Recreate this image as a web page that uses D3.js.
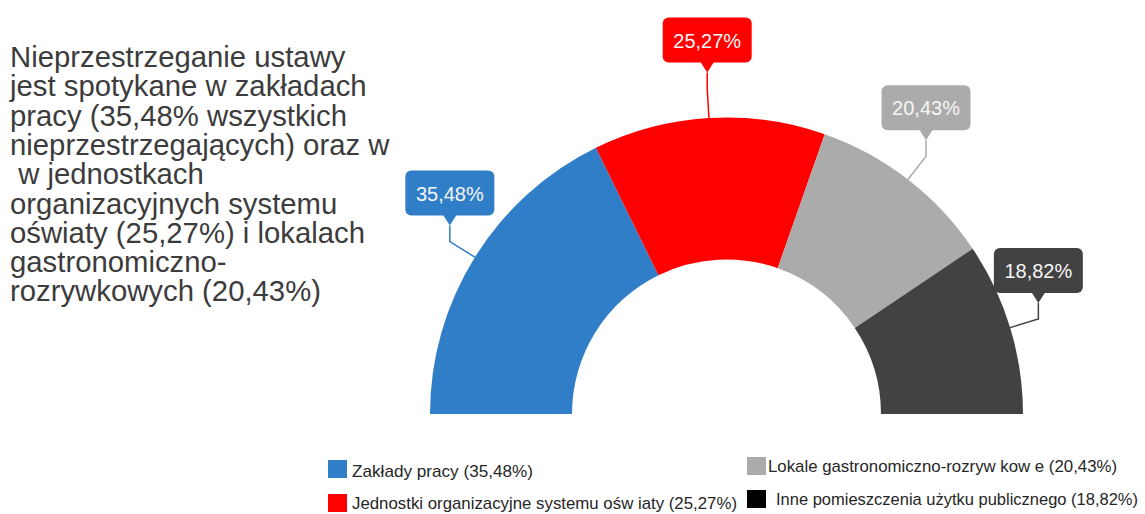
<!DOCTYPE html>
<html>
<head>
<meta charset="utf-8">
<script src="https://cdn.jsdelivr.net/npm/d3@7"></script>
<style>
  html, body { margin: 0; padding: 0; background: #ffffff; }
  svg { display: block; }
</style>
</head>
<body>
<svg id="chart" width="1145" height="514"></svg>
<script>
// ---- data ----
const categories = [
  "Zakłady pracy",
  "Jednostki organizacyjne systemu ośw iaty",
  "Lokale gastronomiczno-rozryw kow e",
  "Inne pomieszczenia użytku publicznego"
];
const values = [35.48, 25.27, 20.43, 18.82];
const sliceColors = ["#2f7ec7", "#ff0000", "#ababab", "#424242"];
const legendColors = ["#2f7ec7", "#ff0000", "#ababab", "#000000"];
const titleLines = [
  "Nieprzestrzeganie ustawy",
  "jest spotykane w zakładach",
  "pracy (35,48% wszystkich",
  "nieprzestrzegających) oraz w",
  " w jednostkach",
  "organizacyjnych systemu",
  "oświaty (25,27%) i lokalach",
  "gastronomiczno-",
  "rozrywkowych (20,43%)"
];

// ---- layout ----
const svg = d3.select("#chart");
const cx = 726.5, cy = 414;
const rOuter = 296.5, rInner = 154.5;
const fmt = v => d3.format(".2f")(v).replace(".", ",") + "%";

// title
const title = svg.append("g").attr("transform", "translate(10,0)");
title.selectAll("text").data(titleLines).join("text")
  .attr("x", 0)
  .attr("y", (d, i) => 67 + i * 29.3)
  .attr("font-family", "'Liberation Sans', Arial, sans-serif")
  .attr("font-size", 29.3)
  .attr("fill", "#3c3c3c")
  .style("white-space", "pre")
  .attr("xml:space", "preserve")
  .text(d => d);

// donut
const pie = d3.pie().sort(null).value(d => d)
  .startAngle(-Math.PI / 2).endAngle(Math.PI / 2);
const arcs = pie(values);
const arc = d3.arc().innerRadius(rInner).outerRadius(rOuter);

const g = svg.append("g").attr("transform", `translate(${cx},${cy})`);
g.selectAll("path.slice").data(arcs).join("path")
  .attr("class", "slice")
  .attr("d", arc)
  .attr("fill", (d, i) => sliceColors[i]);

// labels with callouts
const rKink = 326, stem = 16, tri = 10, boxW = 89, boxH = 45;
arcs.forEach((d, i) => {
  const a = (d.startAngle + d.endAngle) / 2;
  const p0 = [rOuter * Math.sin(a), -rOuter * Math.cos(a)];
  const p1 = [rKink * Math.sin(a), -rKink * Math.cos(a)];
  const tip = [p1[0], p1[1] - stem];
  const col = sliceColors[i];
  g.append("path")
    .attr("d", d3.line()([p0, p1, tip]))
    .attr("fill", "none")
    .attr("stroke", col)
    .attr("stroke-width", 1.5);
  const bx = tip[0] - boxW / 2, bBottom = tip[1] - tri, by = bBottom - boxH;
  g.append("rect")
    .attr("x", bx).attr("y", by)
    .attr("width", boxW).attr("height", boxH)
    .attr("rx", 6).attr("ry", 6)
    .attr("fill", col);
  g.append("path")
    .attr("d", d3.line()([[tip[0] - 7, bBottom - 1], [tip[0] + 7, bBottom - 1], [tip[0], tip[1]]]) + "Z")
    .attr("fill", col);
  g.append("text")
    .attr("x", tip[0])
    .attr("y", by + 30)
    .attr("text-anchor", "middle")
    .attr("font-family", "'Liberation Sans', Arial, sans-serif")
    .attr("font-size", 20)
    .attr("fill", "#f6f6f6")
    .text(fmt(values[i]));
});

// legend
const legendPos = [
  { sx: 328, sy: 460, tx: 352, ty: 477, w: 181 },
  { sx: 328, sy: 494, tx: 352, ty: 509, w: 385 },
  { sx: 747, sy: 457, tx: 768, ty: 472, w: 349 },
  { sx: 747, sy: 490, tx: 776, ty: 505, w: 362 }
];
const legend = svg.append("g");
categories.forEach((c, i) => {
  const p = legendPos[i];
  legend.append("rect")
    .attr("x", p.sx).attr("y", p.sy)
    .attr("width", 19).attr("height", 18)
    .attr("fill", legendColors[i]);
  legend.append("text")
    .attr("x", p.tx).attr("y", p.ty)
    .attr("font-family", "'Liberation Sans', Arial, sans-serif")
    .attr("font-size", 16.4)
    .attr("fill", "#262626")
    .attr("textLength", p.w)
    .attr("lengthAdjust", "spacingAndGlyphs")
    .style("white-space", "pre")
    .text(`${c} (${fmt(values[i])})`);
});
</script>
</body>
</html>
